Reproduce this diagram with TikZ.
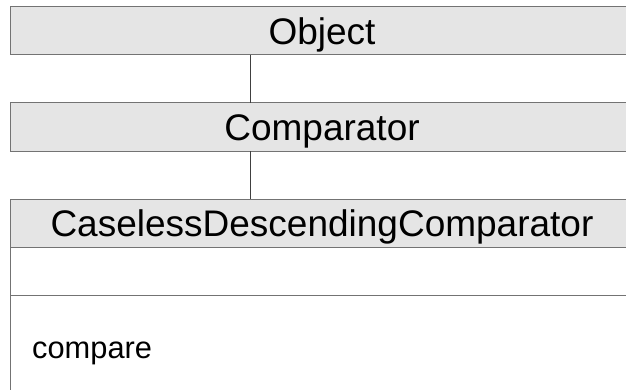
\documentclass[tikz,border=0pt]{standalone}
\usepackage{fontspec}
\setmainfont{Liberation Sans}
\usetikzlibrary{positioning}

\begin{document}
\begin{tikzpicture}[
x=1pt, y=1pt,
node distance=48pt,
head/.style={draw=black!55, fill=black!10, line width=1pt, minimum width=624pt, minimum height=48pt, inner sep=0pt, outer sep=0pt, font=\fontsize{37}{40}\selectfont, text height=26.5pt, text depth=0pt},
part/.style={draw=black!55, line width=1pt, minimum width=624pt, minimum height=48pt, inner sep=0pt, outer sep=0pt},
link/.style={draw=black!75, line width=0.8pt}
]
\useasboundingbox (0,0) rectangle (626,389);
\clip (0,0) rectangle (626,389);
\node[head] (obj) at (322,358) {Object};
\node[head, below=of obj] (cmp) {Comparator};
\node[head, below=of cmp] (cdc) {CaselessDescendingComparator};
\node[part, below=0pt of cdc] (attrs) {};
\node[part, below=0pt of attrs, minimum height=130pt] (ops) {};
\node[anchor=base west, inner sep=0pt, font=\fontsize{30.8}{34}\selectfont] (compare) at ([xshift=22pt, yshift=-63pt]ops.north west) {compare};

\draw[link] ([xshift=-72pt]obj.south) -- ([xshift=-72pt]cmp.north);
\draw[link] ([xshift=-72pt]cmp.south) -- ([xshift=-72pt]cdc.north);
\end{tikzpicture}
\end{document}
